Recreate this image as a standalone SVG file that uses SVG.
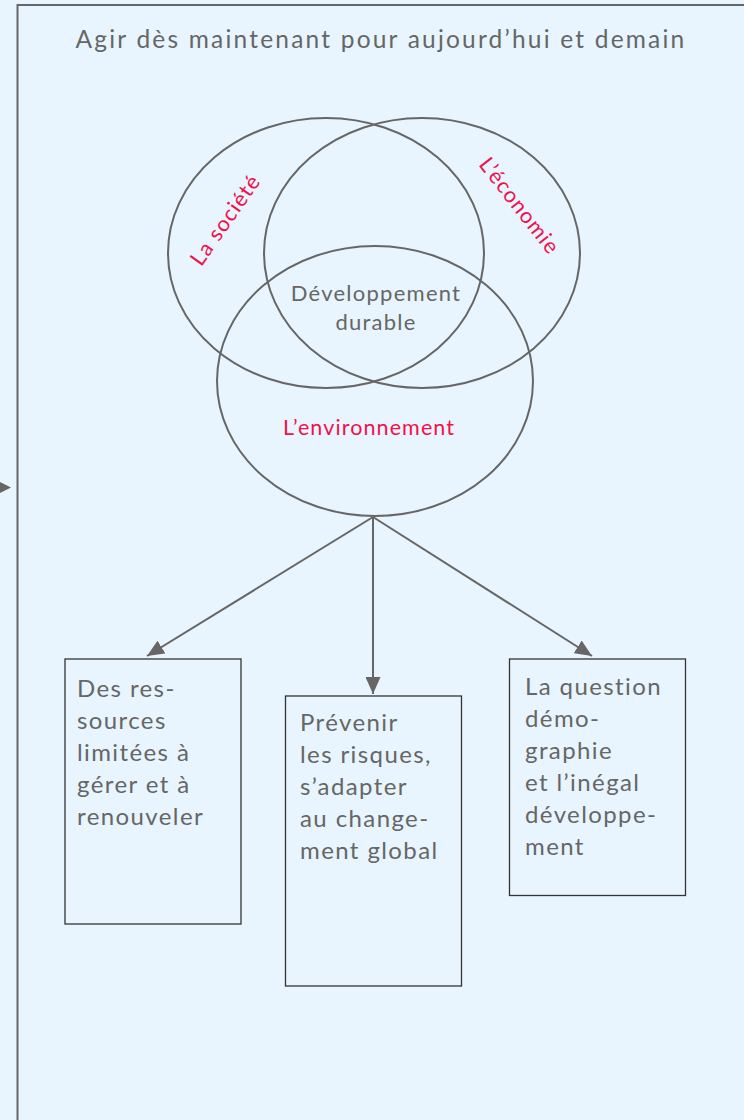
<svg xmlns="http://www.w3.org/2000/svg" width="744" height="1120" viewBox="0 0 744 1120">
<style>
.t{font-family:Lato,"Open Sans",sans-serif;fill:#666;}
.r{font-family:Lato,"Open Sans",sans-serif;fill:#f0104c;font-size:21.5px;letter-spacing:1.1px;}
.el{fill:none;stroke:#666;stroke-width:2;}
.bx{fill:none;stroke:#333;stroke-width:1.3;}
.ln{stroke:#666;stroke-width:2;fill:none;}
.bt{font-size:24px;letter-spacing:1.4px;}
.dd{font-size:22px;letter-spacing:1.25px;}
</style>
<defs>
<marker id="ah" markerWidth="17" markerHeight="15" refX="17" refY="7.5" orient="auto" markerUnits="userSpaceOnUse">
<path d="M0,0 L17,7.5 L0,15 Z" fill="#666"/>
</marker>
</defs>
<rect x="0" y="0" width="744" height="1120" fill="#e8f5fe"/>
<path d="M17.5,1120 V5 H744" fill="none" stroke="#666" stroke-width="2"/>
<polygon points="0,482 11,487.5 0,493" fill="#666"/>
<text class="t" x="381" y="48" font-size="24.5" letter-spacing="2.2" text-anchor="middle">Agir dès maintenant pour aujourd’hui et demain</text>
<g id="venn">
<g id="societe"><ellipse class="el" cx="326" cy="253" rx="158" ry="135"/>
<text class="r" transform="translate(227,221) rotate(-55)" text-anchor="middle" dominant-baseline="middle">La société</text></g>
<g id="economie"><ellipse class="el" cx="422" cy="253" rx="158" ry="135"/>
<text class="r" transform="translate(518,207) rotate(52)" text-anchor="middle" dominant-baseline="middle">L’économie</text></g>
<g id="environnement"><ellipse class="el" cx="375" cy="381" rx="158" ry="135"/>
<text class="r" x="369" y="435" text-anchor="middle">L’environnement</text></g>
<g id="dd"><text class="t dd" x="376" y="301" text-anchor="middle">Développement</text>
<text class="t dd" x="376" y="330" text-anchor="middle">durable</text></g>
</g>
<g id="connectors">
<line class="ln" x1="373" y1="517" x2="147" y2="656" marker-end="url(#ah)"/>
<line class="ln" x1="373" y1="517" x2="373" y2="694" marker-end="url(#ah)"/>
<line class="ln" x1="373" y1="517" x2="592" y2="656" marker-end="url(#ah)"/>
</g>
<g id="box1"><rect class="bx" x="65" y="659" width="176" height="265"/>
<text class="t bt" x="77" y="697">Des res-</text>
<text class="t bt" x="77" y="729">sources</text>
<text class="t bt" x="77" y="761">limitées à</text>
<text class="t bt" x="77" y="793">gérer et à</text>
<text class="t bt" x="77" y="825">renouveler</text></g>
<g id="box2"><rect class="bx" x="285.5" y="696" width="176" height="290"/>
<text class="t bt" x="300" y="731">Prévenir</text>
<text class="t bt" x="300" y="763">les risques,</text>
<text class="t bt" x="300" y="795">s’adapter</text>
<text class="t bt" x="300" y="827">au change-</text>
<text class="t bt" x="300" y="859">ment global</text></g>
<g id="box3"><rect class="bx" x="509.5" y="659" width="176" height="236.5"/>
<text class="t bt" x="525" y="695">La question</text>
<text class="t bt" x="525" y="727">démo-</text>
<text class="t bt" x="525" y="759">graphie</text>
<text class="t bt" x="525" y="791">et l’inégal</text>
<text class="t bt" x="525" y="823">développe-</text>
<text class="t bt" x="525" y="855">ment</text></g>
</svg>
